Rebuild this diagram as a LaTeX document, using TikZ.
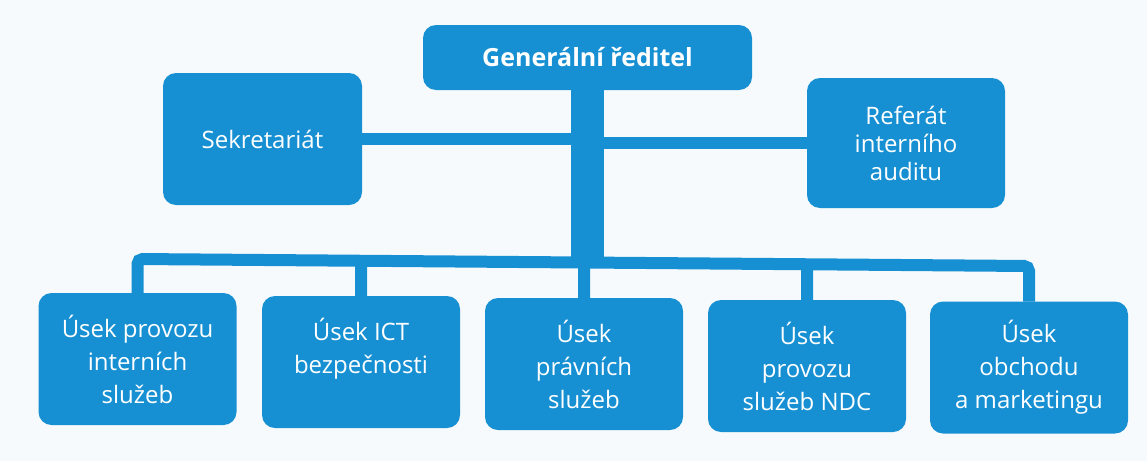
\documentclass[tikz,border=0pt]{standalone}
\usepackage{fontspec}
\setmainfont{Open Sans}
\usetikzlibrary{calc}
\definecolor{orgblue}{HTML}{1790D3}
\definecolor{bgpaper}{HTML}{F7FAFC}
\begin{document}
\begin{tikzpicture}[x=1pt,y=-1pt,
  unit/.style={fill=orgblue, rounded corners=13pt, text=white, align=center,
    inner sep=0pt, outer sep=0pt, font=\fontsize{24pt}{33pt}\selectfont},
  lowunit/.style={unit, minimum width=198pt, minimum height=132pt},
  conn/.style={draw=orgblue, line width=12pt}]
\fill[bgpaper] (0,0) rectangle (1147,461);
\useasboundingbox (0,0) rectangle (1147,461);

% top row
\node[unit, font=\bfseries\fontsize{25pt}{28pt}\selectfont,
      minimum width=329pt, minimum height=65pt] (gr) at (587.5,57.5) {Generální ředitel};
\node[unit, minimum width=199pt, minimum height=132pt] (sek) at (262.5,139) {Sekretariát};
\node[unit, font=\fontsize{24pt}{28pt}\selectfont,
      minimum width=198pt, minimum height=130pt] (ref) at (906,143) {Referát\\interního\\auditu};

% bottom row
\node[lowunit] (b1) at (137.5,359) {Úsek provozu\\interních\\služeb};
\node[lowunit] (b2) at (361,362) {Úsek ICT\\bezpečnosti\\\vphantom{služeb}};
\node[lowunit] (b3) at (584,364) {Úsek\\právních\\služeb};
\node[lowunit] (b4) at (807,366) {Úsek\\provozu\\služeb NDC};
\node[lowunit] (b5) at (1029,367.5) {Úsek\\obchodu\\a marketingu};

% connectors
\coordinate (trunkend) at (587.5,262.5);
\coordinate (busL) at (137.5,259);
\coordinate (busR) at (1029,266);
\draw[conn] (sek.east) -- (sek.east -| gr.south);
\draw[conn] (ref.west) -- (ref.west -| gr.south);
\draw[draw=orgblue, line width=33pt] (gr.south) -- (trunkend);
\draw[conn, rounded corners=5pt] (b1.north) -- (busL) -- (busR) -- (b5.north);
\draw[conn] (b2.north) -- ($(busL)!(b2.north)!(busR)$);
\draw[conn] (b3.north) -- ($(busL)!(b3.north)!(busR)$);
\draw[conn] (b4.north) -- ($(busL)!(b4.north)!(busR)$);
\end{tikzpicture}
\end{document}
